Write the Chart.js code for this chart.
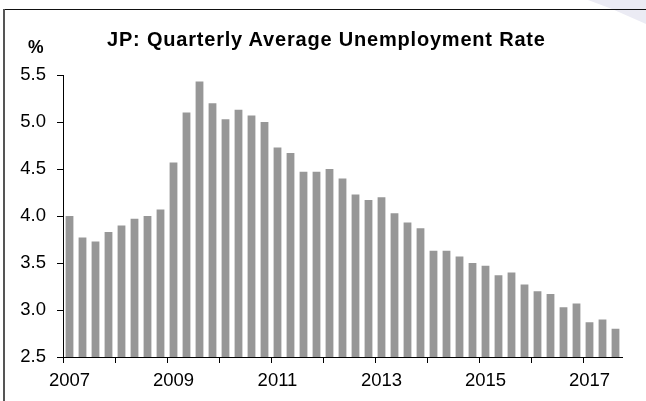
<!DOCTYPE html>
<html>
<head>
<meta charset="utf-8">
<script src="https://cdn.jsdelivr.net/npm/chart.js@4"></script>
<style>
  html, body { margin: 0; padding: 0; background: #fff; }
  #wrap { position: relative; width: 646px; height: 401px; overflow: hidden; }
  #chart { position: absolute; left: 0; top: 0; }
  .frameTop { position: absolute; left: 3px; top: 9px; width: 643px; height: 1px; background: #111; }
  .frameLeft { position: absolute; left: 3px; top: 9px; width: 2px; height: 392px; background: #555; }
  .mark { position: absolute; left: 0; top: 0; width: 646px; height: 40px; background: #ebebf4;
          clip-path: polygon(588px 0, 646px 0, 646px 24px, 612px 9px); }
  .title { position: absolute; left: 107px; top: 28.8px; font: bold 20px "Liberation Sans", Arial, sans-serif;
           line-height: 20px; letter-spacing: 0.8px; color: #000; white-space: nowrap; }
  .unit { position: absolute; left: 28px; top: 39px; font: bold 17.5px "Liberation Sans", Arial, sans-serif;
          line-height: 17.5px; color: #000; }
</style>
</head>
<body>
<div id="wrap">
  <div class="mark"></div>
  <div class="frameTop"></div>
  <div class="frameLeft"></div>
  <canvas id="chart" width="646" height="401"></canvas>
  <div class="title">JP: Quarterly Average Unemployment Rate</div>
  <div class="unit">%</div>
</div>
<script>
// quarters 2007 Q1 .. 2017 Q3
const quarters = [
  "2007 Q1", "2007 Q2", "2007 Q3", "2007 Q4",
  "2008 Q1", "2008 Q2", "2008 Q3", "2008 Q4",
  "2009 Q1", "2009 Q2", "2009 Q3", "2009 Q4",
  "2010 Q1", "2010 Q2", "2010 Q3", "2010 Q4",
  "2011 Q1", "2011 Q2", "2011 Q3", "2011 Q4",
  "2012 Q1", "2012 Q2", "2012 Q3", "2012 Q4",
  "2013 Q1", "2013 Q2", "2013 Q3", "2013 Q4",
  "2014 Q1", "2014 Q2", "2014 Q3", "2014 Q4",
  "2015 Q1", "2015 Q2", "2015 Q3", "2015 Q4",
  "2016 Q1", "2016 Q2", "2016 Q3", "2016 Q4",
  "2017 Q1", "2017 Q2", "2017 Q3"
];

// unemployment rate, %
const unemploymentRate = [
  4.00, 3.77, 3.73, 3.83,
  3.90, 3.97, 4.00, 4.07,
  4.57, 5.10, 5.43, 5.20,
  5.03, 5.13, 5.07, 5.00,
  4.73, 4.67, 4.47, 4.47,
  4.50, 4.40, 4.23, 4.17,
  4.20, 4.03, 3.93, 3.87,
  3.63, 3.63, 3.57, 3.50,
  3.47, 3.37, 3.40, 3.27,
  3.20, 3.17, 3.03, 3.07,
  2.87, 2.90, 2.80
];

const yearLabels = ["2007", "2009", "2011", "2013", "2015", "2017"];

const fontFamily = '"Liberation Sans", Arial, sans-serif';

new Chart(document.getElementById("chart"), {
  type: "bar",
  data: {
    labels: quarters,
    datasets: [{
      label: "Unemployment rate",
      data: unemploymentRate,
      backgroundColor: "#979797",
      borderWidth: 0,
      categoryPercentage: 1.0,
      barPercentage: 0.6,
    }],
  },
  options: {
    responsive: false,
    animation: false,
    events: [],
    layout: { padding: { top: 75, right: 24, left: 0, bottom: 0 } },
    plugins: {
      legend: { display: false },
      title: { display: false },
      tooltip: { enabled: false },
    },
    scales: {
      x: {
        afterFit: (scale) => { scale.height = 44; },
        grid: {
          offset: true,
          drawOnChartArea: false,
          drawTicks: true,
          tickLength: 6,
          color: (ctx) => (ctx.index % 4 === 0 ? "#000" : "rgba(0,0,0,0)"),
        },
        border: { display: true, color: "#000", width: 1 },
        ticks: {
          autoSkip: false,
          maxRotation: 0,
          minRotation: 0,
          padding: 7,
          color: "#000",
          font: { family: fontFamily, size: 18.5 },
          callback: function (value) {
            const lab = this.getLabelForValue(value);
            const [yr, q] = lab.split(" ");
            return q === "Q1" && yearLabels.includes(yr) ? yr : "";
          },
        },
      },
      y: {
        min: 2.5,
        max: 5.5,
        afterFit: (scale) => { scale.width = 63; },
        grid: {
          drawOnChartArea: false,
          drawTicks: true,
          tickLength: 6,
          color: "#000",
        },
        border: { display: true, color: "#000", width: 1 },
        ticks: {
          stepSize: 0.5,
          padding: 11,
          color: "#000",
          font: { family: fontFamily, size: 18.5 },
          callback: (v) => v.toFixed(1),
        },
      },
    },
  },
});
</script>
</body>
</html>
